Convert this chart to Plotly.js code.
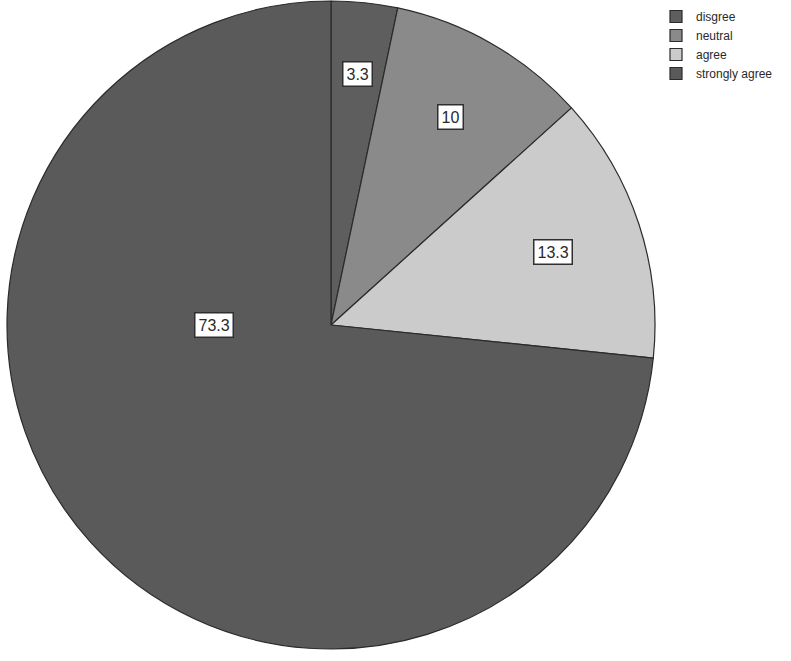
<!DOCTYPE html>
<html>
<head>
<meta charset="utf-8">
<script src="https://cdn.plot.ly/plotly-3.0.1.min.js"></script>
<style>html,body{margin:0;padding:0;background:#fff;}#chart{width:791px;height:661px;}</style>
</head>
<body>
<div id="chart"></div>
<script>
var categories = ["disgree", "neutral", "agree", "strongly agree"];
var percents = [3.3, 10, 13.3, 73.3];
var sliceColors = ["#5e5e5e", "#8a8a8a", "#cbcbcb", "#5a5a5a"];

var W = 791, H = 661;
var cx = 331, cy = 325, R = 324;

var domX = [(cx - R) / W, (cx + R) / W];
var domY = [1 - (cy + R) / H, 1 - (cy - R) / H];

var trace = {
  type: "pie",
  labels: categories,
  values: percents,
  sort: false,
  direction: "clockwise",
  rotation: 0,
  textinfo: "none",
  hoverinfo: "label+value",
  marker: { colors: sliceColors, line: { color: "#2b2b2b", width: 1.2 } },
  domain: { x: domX, y: domY }
};

// Boxed value labels, positioned from the data: angle = middle of the larger
// part of the slice that lies within one half (right/left) of the pie.
var total = percents.reduce(function (a, b) { return a + b; }, 0);
var annotations = [];
var cum = 0;
for (var i = 0; i < percents.length; i++) {
  var frac = percents[i] / total;
  var a0 = cum, a1 = cum + frac;
  cum = a1;
  var s = a0, e = a1;
  if (a0 < 0.5 && a1 > 0.5) {
    if ((a1 - 0.5) >= (0.5 - a0)) { s = 0.5; } else { e = 0.5; }
  }
  var mid = ((s + e) / 2) * 2 * Math.PI;
  var rf = 0.8 - 0.6 * frac;
  var px = cx + R * rf * Math.sin(mid);
  var py = cy - R * rf * Math.cos(mid);
  annotations.push({
    xref: "paper", yref: "paper",
    x: px / W, y: 1 - py / H,
    xanchor: "center", yanchor: "middle",
    text: String(percents[i]),
    showarrow: false,
    font: { family: "Liberation Sans, Arial, sans-serif", size: 16, color: "#2a2a2a" },
    bgcolor: "#ffffff",
    bordercolor: "#2f2f2f",
    borderwidth: 1.5,
    borderpad: 3
  });
}

var layout = {
  width: W, height: H,
  margin: { l: 0, r: 0, t: 0, b: 0 },
  paper_bgcolor: "#ffffff",
  plot_bgcolor: "#ffffff",
  showlegend: true,
  legend: {
    x: 656 / W, y: 1 - 2 / H,
    xanchor: "left", yanchor: "top",
    font: { family: "Liberation Sans, Arial, sans-serif", size: 12, color: "#2a2a2a" },
    itemwidth: 30,
    traceorder: "normal",
    bgcolor: "rgba(0,0,0,0)"
  },
  annotations: annotations
};

Plotly.newPlot("chart", [trace], layout, { displayModeBar: false, staticPlot: true });
</script>
</body>
</html>
